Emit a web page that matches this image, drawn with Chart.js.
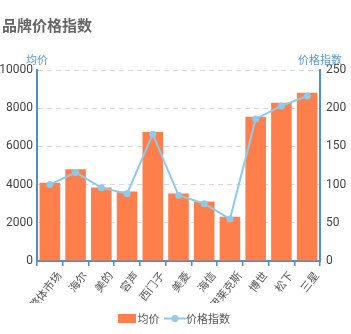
<!DOCTYPE html>
<html>
<head>
  <title>品牌价格指数</title>
  <script src="https://cdn.jsdelivr.net/npm/chart.js"></script>
  <style>
    body { margin: 0; background: #fff; }
    #wrap { width: 351px; height: 334px; }
  </style>
</head>
<body>
  <div id="wrap"><canvas id="priceChart" width="351" height="334"></canvas></div>

  <script>
    const brands = ['整体市场', '海尔', '美的', '容声', '西门子', '美菱', '海信', '伊莱克斯', '博世', '松下', '三星'];
    const avgPrice = [4100, 4800, 3850, 3640, 6750, 3540, 3110, 2320, 7550, 8280, 8810];
    const priceIndex = [100, 116, 96, 88, 166, 86, 75, 55, 186, 203, 216];

    const axisBlue = '#4f8fc6';
    const barColor = '#ff7f4c';
    const lineColor = '#8ccbea';

    // little legend symbols
    function rectIcon() {
      const c = document.createElement('canvas');
      c.width = 18; c.height = 9;
      const g = c.getContext('2d');
      g.fillStyle = barColor;
      g.fillRect(0, 0, 18, 9);
      return c;
    }
    function lineIcon() {
      const c = document.createElement('canvas');
      c.width = 22; c.height = 9;
      const g = c.getContext('2d');
      g.strokeStyle = lineColor;
      g.lineWidth = 2;
      g.beginPath(); g.moveTo(0, 4.5); g.lineTo(22, 4.5); g.stroke();
      g.fillStyle = lineColor;
      g.beginPath(); g.arc(11, 4.5, 3.5, 0, Math.PI * 2); g.fill();
      return c;
    }

    const textPlugin = {
      id: 'texts',
      afterDraw(chart) {
        const ctx = chart.ctx;
        ctx.save();
        ctx.textBaseline = 'middle';
        ctx.fillStyle = '#666';
        ctx.font = 'bold 15px "Noto Sans CJK SC"';
        ctx.textAlign = 'left';
        ctx.fillText('品牌价格指数', 2, 25);
        ctx.fillStyle = '#5a9bd0';
        ctx.font = '11px "Noto Sans CJK SC"';
        ctx.textAlign = 'center';
        ctx.fillText('均价', chart.scales.y.right, 60);
        ctx.fillText('价格指数', chart.scales.y1.left, 60);
        ctx.restore();
      }
    };

    new Chart(document.getElementById('priceChart'), {
      data: {
        labels: brands,
        datasets: [{
          type: 'bar',
          label: '均价',
          data: avgPrice,
          backgroundColor: barColor,
          yAxisID: 'y',
          order: 1,
          categoryPercentage: 1,
          barPercentage: 0.8
        }, {
          type: 'line',
          label: '价格指数',
          data: priceIndex,
          borderColor: lineColor,
          backgroundColor: lineColor,
          borderWidth: 2,
          pointRadius: 3.5,
          pointBackgroundColor: lineColor,
          pointBorderWidth: 0,
          yAxisID: 'y1',
          order: 0,
          tension: 0
        }]
      },
      options: {
        responsive: false,
        animation: false,
        layout: { padding: { top: 70, left: 0, right: 0, bottom: 0 } },
        plugins: {
          tooltip: { enabled: false },
          legend: {
            position: 'bottom',
            labels: {
              usePointStyle: true,
              color: '#555',
              font: { size: 11, family: '"Noto Sans CJK SC"' },
              padding: 10,
              generateLabels(chart) {
                return chart.data.datasets.map((ds, i) => ({
                  text: ds.label,
                  fillStyle: ds.backgroundColor,
                  strokeStyle: ds.backgroundColor,
                  lineWidth: 0,
                  pointStyle: i === 0 ? rectIcon() : lineIcon(),
                  datasetIndex: i,
                  fontColor: '#555'
                }));
              }
            }
          }
        },
        scales: {
          x: {
            grid: { offset: true, drawOnChartArea: false, drawTicks: true, tickLength: 5, color: axisBlue, lineWidth: 1.5 },
            border: { color: axisBlue, width: 2 },
            ticks: { color: '#555', font: { size: 11, family: '"Noto Sans CJK SC"' }, minRotation: 52, maxRotation: 52, autoSkip: false, padding: 3, labelOffset: 9 },
            afterFit(scale) { scale.height = 42; }
          },
          y: {
            position: 'left',
            min: 0, max: 10000,
            ticks: { stepSize: 2000, color: '#444', font: { size: 12, family: 'Roboto' }, padding: 4, callback: v => String(v) },
            grid: { color: '#d8d8d8', drawTicks: false, lineWidth: 1 },
            border: { color: axisBlue, width: 2, dash: [5, 4] },
            afterFit(scale) { scale.width = 37; }
          },
          y1: {
            position: 'right',
            min: 0, max: 250,
            ticks: { stepSize: 50, color: '#444', font: { size: 12, family: 'Roboto' }, padding: 6, callback: v => String(v) },
            grid: { drawOnChartArea: false, drawTicks: false },
            border: { color: axisBlue, width: 2 },
            afterFit(scale) { scale.width = 31; }
          }
        }
      },
      plugins: [textPlugin]
    });
  </script>
</body>
</html>
